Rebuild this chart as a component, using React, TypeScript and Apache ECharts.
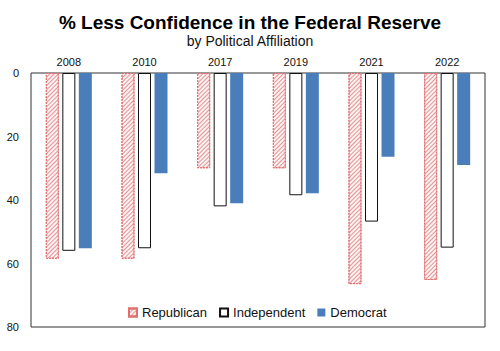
import React, { useEffect, useRef } from "react";
import * as echarts from "echarts";

const years = ["2008", "2010", "2017", "2019", "2021", "2022"];
const republican = [58.5, 58.5, 30, 30, 66.5, 65.2];
const independent = [56, 55.2, 42, 38.5, 46.8, 55];
const democrat = [55.2, 31.6, 41, 37.9, 26.4, 29];
const yTicks = [0, 20, 40, 60, 80];

export default function App() {
  const ref = useRef<HTMLDivElement>(null);
  useEffect(() => {
    if (!ref.current) return;
    const chart = echarts.init(ref.current, null, { renderer: "svg" });
    const font = "Liberation Sans, Arial, sans-serif";
    chart.setOption({
      animation: false,
      backgroundColor: "#ffffff",
      textStyle: { fontFamily: font },
      title: [
        {
          text: "% Less Confidence in the Federal Reserve",
          left: "center",
          top: 8,
          textStyle: { fontSize: 19, fontWeight: "bold", color: "#000", fontFamily: font },
        },
        {
          text: "by Political Affiliation",
          left: "center",
          top: 29,
          textStyle: { fontSize: 14, fontWeight: "normal", color: "#111", fontFamily: font },
        },
      ],
      legend: {
        data: ["Republican", "Independent", "Democrat"],
        top: 301,
        left: 123,
        icon: "rect",
        itemWidth: 8,
        itemHeight: 8,
        itemGap: 12,
        textStyle: { fontSize: 13, color: "#111", fontFamily: font },
      },
      grid: {
        left: 31,
        right: 15,
        top: 73,
        bottom: 24,
        show: true,
        borderColor: "#333",
        borderWidth: 1,
        backgroundColor: "#fff",
      },
      xAxis: {
        type: "category",
        position: "top",
        data: years,
        axisLine: { show: false },
        axisTick: { show: false },
        axisLabel: { fontSize: 11, color: "#111", margin: 6, fontFamily: font },
      },
      yAxis: {
        type: "value",
        inverse: true,
        min: yTicks[0],
        max: yTicks[yTicks.length - 1],
        interval: 20,
        splitLine: { show: false },
        axisLine: { show: false },
        axisTick: { show: false },
        axisLabel: { fontSize: 11, color: "#111", margin: 12, fontFamily: font },
      },
      series: [
        {
          name: "Republican",
          type: "bar",
          data: republican,
          barWidth: 13,
          barGap: "27%",
          itemStyle: {
            color: "#fdf2f2",
            borderColor: "#e07070",
            borderWidth: 1,
            borderType: [2, 1],
            decal: {
              symbol: "rect",
              symbolSize: 1,
              color: "rgba(215,110,110,0.7)",
              dashArrayX: [1, 0],
              dashArrayY: [1, 2],
              rotation: -Math.PI / 4,
            },
          },
        },
        {
          name: "Independent",
          type: "bar",
          data: independent,
          barWidth: 13,
          barGap: "27%",
          itemStyle: { color: "#ffffff", borderColor: "#111", borderWidth: 1 },
        },
        {
          name: "Democrat",
          type: "bar",
          data: democrat,
          barWidth: 13,
          barGap: "27%",
          itemStyle: { color: "#4A7EBB" },
        },
      ],
    });
    return () => chart.dispose();
  }, []);
  return <div ref={ref} style={{ width: 500, height: 351, position: "absolute", left: 0, top: 0 }} />;
}
